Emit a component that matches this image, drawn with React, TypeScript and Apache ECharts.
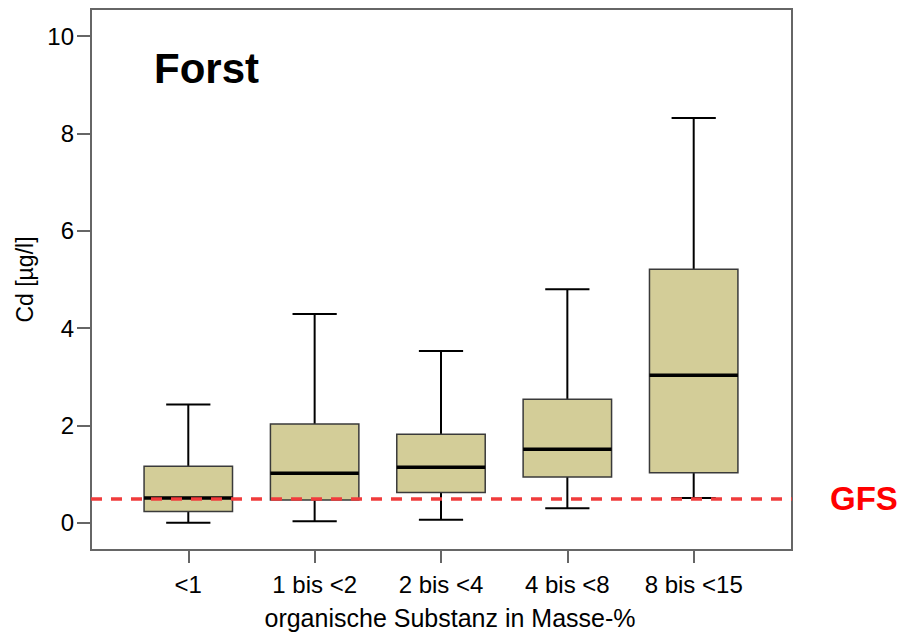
import React, { useEffect, useRef } from "react";
import * as echarts from "echarts";

// Cd concentrations (µg/l) per class of organic matter content
const categories = ["<1", "1 bis <2", "2 bis <4", "4 bis <8", "8 bis <15"];
const whiskerLow = [0.0, 0.03, 0.06, 0.3, 0.51];
const quartile1 = [0.23, 0.47, 0.62, 0.94, 1.03];
const medians = [0.51, 1.02, 1.14, 1.51, 3.03];
const quartile3 = [1.16, 2.03, 1.82, 2.54, 5.21];
const whiskerHigh = [2.43, 4.29, 3.53, 4.8, 8.32];
const yTicks = [0, 2, 4, 6, 8, 10];
const gfsValue = 0.5;

const FONT = "'Liberation Sans', Arial, Helvetica, sans-serif";
const BOX_WIDTH = 0.7;
const CAP_WIDTH = 0.35;
const FRAME = "#666";

export default function App() {
  const ref = useRef<HTMLDivElement>(null);

  useEffect(() => {
    if (!ref.current) return;
    const chart = echarts.init(ref.current, null, { renderer: "svg" });

    const rows = categories.map((_, i) => [
      i,
      whiskerLow[i],
      quartile1[i],
      medians[i],
      quartile3[i],
      whiskerHigh[i],
    ]);
    const xIdx = categories.map((_, i) => i);

    const renderItem = (params: any, api: any) => {
      const x = api.value(0);
      const low = api.coord([x, api.value(1)]);
      const q1 = api.coord([x, api.value(2)]);
      const med = api.coord([x, api.value(3)]);
      const q3 = api.coord([x, api.value(4)]);
      const high = api.coord([x, api.value(5)]);
      const bw = api.size([BOX_WIDTH, 0])[0];
      const cw = api.size([CAP_WIDTH, 0])[0];
      const cx = med[0];
      const whisker = { stroke: "#000", lineWidth: 2 };
      return {
        type: "group",
        children: [
          { type: "line", shape: { x1: cx, y1: high[1], x2: cx, y2: q3[1] }, style: whisker },
          { type: "line", shape: { x1: cx, y1: q1[1], x2: cx, y2: low[1] }, style: whisker },
          { type: "line", shape: { x1: cx - cw / 2, y1: high[1], x2: cx + cw / 2, y2: high[1] }, style: whisker },
          { type: "line", shape: { x1: cx - cw / 2, y1: low[1], x2: cx + cw / 2, y2: low[1] }, style: whisker },
          {
            type: "rect",
            shape: { x: cx - bw / 2, y: q3[1], width: bw, height: q1[1] - q3[1] },
            style: { fill: "#d3cd98", stroke: "#3a3a3a", lineWidth: 1.5 },
          },
          {
            type: "line",
            shape: { x1: cx - bw / 2, y1: med[1], x2: cx + bw / 2, y2: med[1] },
            style: { stroke: "#000", lineWidth: 3.5 },
          },
        ],
      };
    };

    chart.setOption({
      animation: false,
      backgroundColor: "#fff",
      textStyle: { fontFamily: FONT },
      title: {
        text: "Forst",
        left: 154,
        top: 47,
        padding: 0,
        textStyle: { fontFamily: FONT, fontSize: 42, fontWeight: "bold", color: "#000" },
      },
      grid: {
        left: 91,
        top: 9,
        width: 701,
        height: 541,
        show: true,
        borderColor: FRAME,
        borderWidth: 2,
        backgroundColor: "transparent",
        containLabel: false,
        outerBoundsMode: "none",
      },
      xAxis: {
        type: "value",
        min: -0.77,
        max: 4.778,
        splitLine: { show: false },
        axisLine: { show: true, onZero: false, lineStyle: { color: FRAME, width: 2 } },
        axisTick: { show: true, customValues: xIdx, length: 13, lineStyle: { color: FRAME, width: 2 } },
        axisLabel: {
          customValues: xIdx,
          formatter: (v: number) => categories[Math.round(v)] ?? "",
          margin: 22,
          fontSize: 24,
          color: "#000",
          fontFamily: FONT,
        },
        name: "organische Substanz in Masse-%",
        nameLocation: "middle",
        nameGap: 55,
        nameTextStyle: { fontSize: 25, color: "#000", fontFamily: FONT, padding: [0, 0, 0, 17] },
      },
      yAxis: {
        type: "value",
        min: -0.56,
        max: 10.56,
        splitLine: { show: false },
        axisLine: { show: true, onZero: false, lineStyle: { color: FRAME, width: 2 } },
        axisTick: { show: true, customValues: yTicks, length: 14, lineStyle: { color: FRAME, width: 2 } },
        axisLabel: {
          customValues: yTicks,
          margin: 17,
          fontSize: 24,
          color: "#000",
          fontFamily: FONT,
        },
        name: "Cd [µg/l]",
        nameLocation: "middle",
        nameGap: 42,
        nameTextStyle: { fontSize: 23, color: "#000", fontFamily: FONT },
      },
      series: [
        {
          type: "custom",
          name: "Cd",
          renderItem,
          encode: { x: 0, y: [1, 2, 3, 4, 5] },
          data: rows,
          clip: false,
          markLine: {
            silent: true,
            symbol: "none",
            z: 10,
            data: [{ yAxis: gfsValue }],
            lineStyle: { color: "#f03c3c", width: 3.5, type: [11, 9] },
            label: {
              show: true,
              position: "end",
              distance: 38,
              formatter: "GFS",
              color: "#ff0000",
              fontSize: 33,
              fontWeight: "bold",
              fontFamily: FONT,
            },
          },
        },
      ],
    });

    return () => chart.dispose();
  }, []);

  return (
    <div
      ref={ref}
      style={{ position: "fixed", left: 0, top: 0, width: 916, height: 633 }}
    />
  );
}
